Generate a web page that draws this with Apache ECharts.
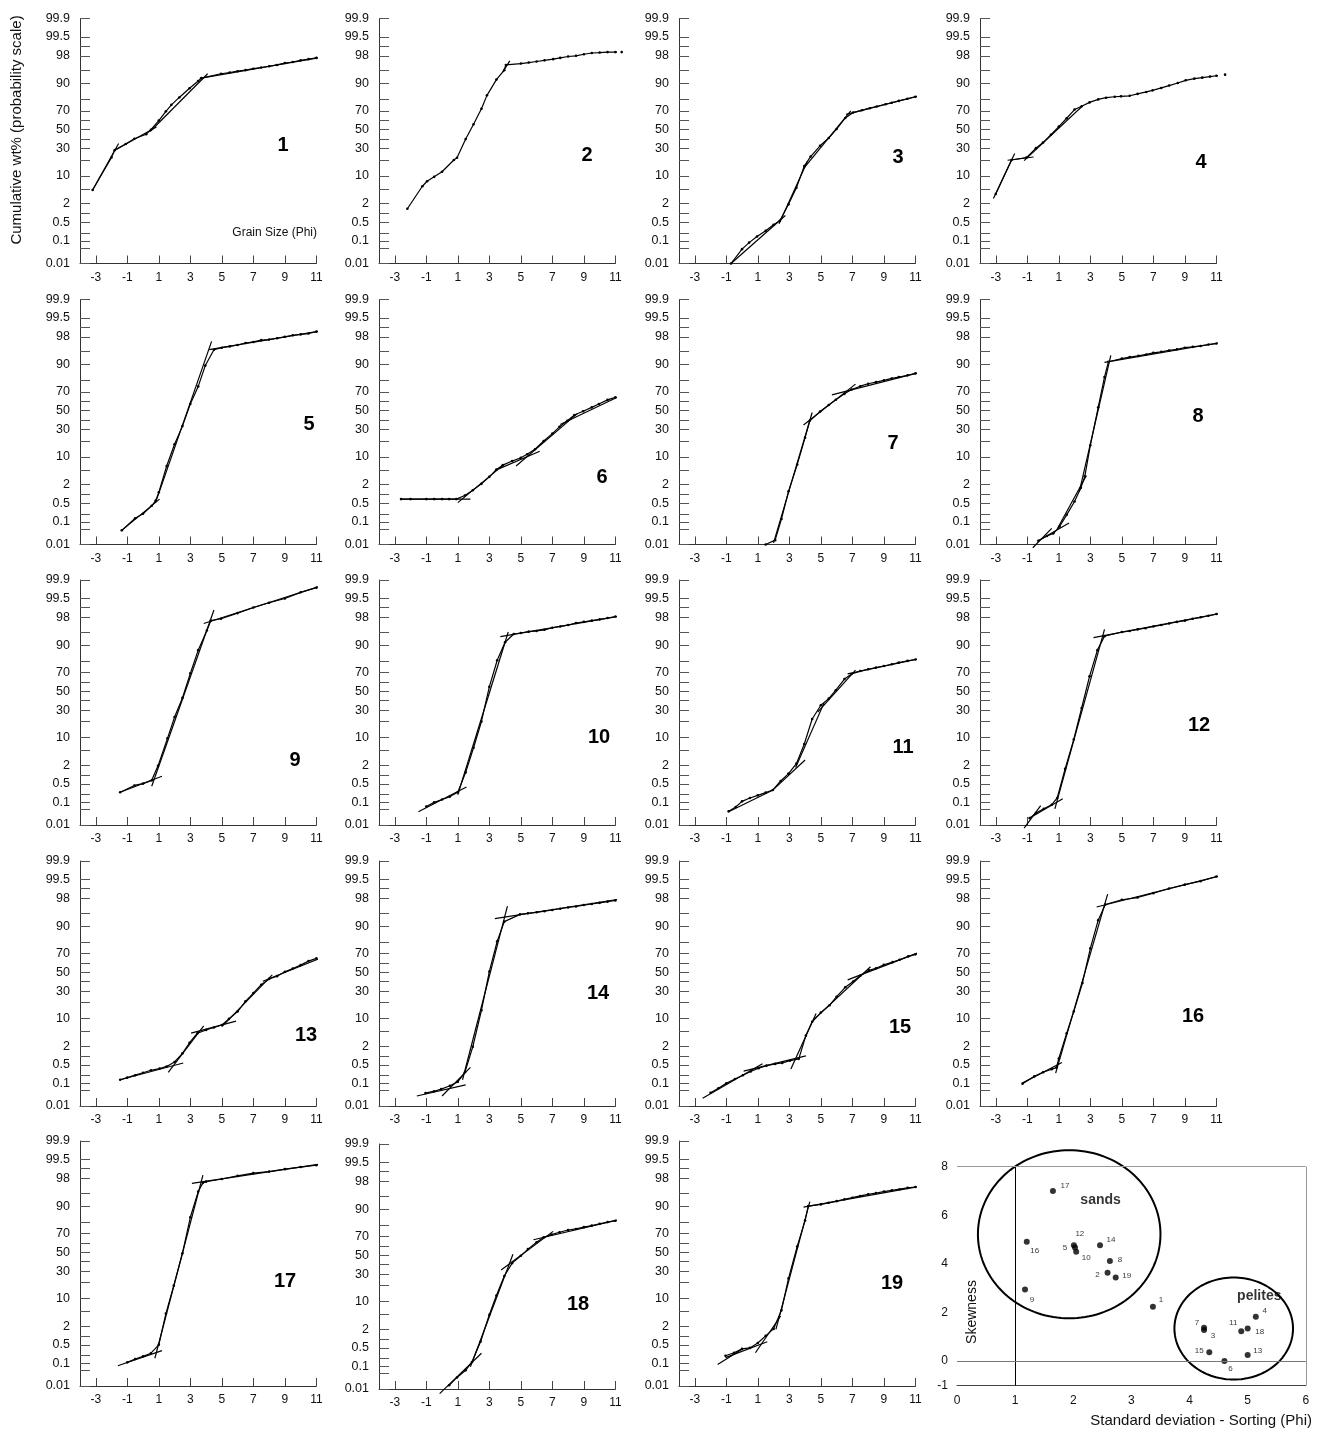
<!DOCTYPE html>
<html><head><meta charset="utf-8">
<script src="https://cdn.jsdelivr.net/npm/echarts@6/dist/echarts.min.js"></script>
<style>html,body{margin:0;padding:0;background:#fff}#c{width:1323px;height:1434px}</style>
</head><body><div id="c"></div>
<script>
// ---------- DATA (phi, cumulative wt%) ----------
const xTicks = [-3,-1,1,3,5,7,9,11];
const yTickPcts = [0.01,0.05,0.1,0.2,0.5,1,2,5,10,20,30,40,50,60,70,80,90,95,98,99,99.5,99.9];
const yLabelPcts = [0.01,0.1,0.5,2,10,30,50,70,90,98,99.5,99.9];

const pts1 = [[-3.2,4.7],[-2.0,22],[-1.8,28.5],[-1.1,34.5],[-0.55,40],[0.2,45],[0.5,50],[1.0,60],[1.45,69.5],[1.8,75.5],[2.3,81.5],[2.95,87.5],[3.5,91.2],[3.7,92.4],[4.95,94],[5.5,94.4],[6,94.8],[6.5,95.1],[7,95.5],[7.5,95.8],[8,96.1],[8.5,96.4],[9,96.8],[9.5,97.0],[10,97.3],[10.5,97.5],[11,97.7]];
const fits1 = [[[-3.2,4.7],[-1.55,35]],[[-1.85,28],[0.85,53]],[[0.45,48],[4.1,94]],[[3.6,92.3],[11.85,98]]];

const pts2 = [[-2.2,1.4],[-1.25,5.8],[-0.95,7.6],[-0.5,9.5],[0,12.1],[0.75,20],[0.95,21.8],[1.5,39.7],[2.0,56],[2.5,72],[2.85,83],[3.45,91.8],[3.95,95.1],[4.05,96.4],[5.0,96.7],[5.5,96.9],[6.0,97.1],[6.5,97.3],[7.05,97.5],[7.5,97.7],[8.0,97.9],[8.5,98.0],[9.0,98.2],[9.5,98.35],[10.0,98.4],[10.5,98.45],[11.0,98.45],[11.4,98.45]];
const fits2 = [[[3.85,94.6],[4.3,97.2]]];

const pts3 = [[-0.7,0.01],[0,0.045],[0.45,0.085],[0.95,0.15],[1.5,0.25],[2.0,0.41],[2.4,0.57],[2.95,1.9],[3.45,5.3],[3.95,15.6],[4.35,22.7],[4.95,32.7],[5.5,40.8],[6.0,50.7],[6.55,62.8],[7.05,68.3],[7.6,70.5],[8.1,72.5],[8.55,74],[9.1,76],[9.5,77.3],[9.95,78.8],[10.5,80.5],[11.0,82.0]];
const fits3 = [[[-0.7,0.01],[2.75,0.85]],[[2.35,0.45],[4.15,19]],[[3.9,14],[6.9,70]],[[6.6,66.5],[11.6,83.6]]];

const pts4 = [[-3.0,3.7],[-2.0,20],[-1.05,21.9],[-0.45,30.4],[0,36],[0.5,44.4],[1.0,53.4],[1.5,62.5],[2.0,71.2],[2.45,74.3],[2.95,77.6],[3.5,80],[4.0,81.3],[4.55,82],[4.95,82.3],[5.5,82.7],[6.0,84],[6.55,85.3],[6.95,86.3],[7.5,87.7],[8.0,89],[8.55,90.3],[9.05,91.5],[9.6,92.2],[10.1,92.6],[10.6,93],[11.0,93.3],[11.55,93.7]];
const fits4 = [[[-3.15,2.8],[-1.8,25.5]],[[-2.25,19.8],[-0.6,22.4]],[[-1.2,19.5],[2.5,74.5]]];

const pts5 = [[-1.35,0.044],[-0.5,0.14],[0,0.21],[0.55,0.41],[0.8,0.62],[1.0,1.16],[1.5,6.2],[2.0,17.5],[2.5,33.4],[3.0,57.4],[3.5,75],[3.95,89.5],[4.5,95.5],[5.0,96],[5.5,96.3],[6.0,96.6],[6.5,97],[7.0,97.2],[7.5,97.5],[8.0,97.6],[8.5,97.8],[9.0,98],[9.5,98.2],[10.0,98.3],[10.5,98.4],[11.0,98.6]];
const fits5 = [[[-1.35,0.044],[1.05,0.7]],[[0.8,0.54],[4.35,97.3]],[[4.2,95.5],[12.3,98.9]]];

const pts6 = [[-2.6,0.7],[-2.0,0.7],[-1.0,0.7],[-0.5,0.7],[0,0.7],[0.45,0.7],[0.9,0.7],[1.45,0.92],[1.95,1.35],[2.5,2.1],[3.0,3.3],[3.45,5.1],[3.85,6.5],[4.45,8.1],[5.0,9.5],[5.4,11.3],[5.9,14.2],[6.45,20],[7.0,26.2],[7.45,32.7],[7.95,39],[8.4,45.2],[8.95,49.3],[9.5,53.7],[9.95,57.4],[10.5,61.8],[11.0,64.5]];
const fits6 = [[[-2.6,0.7],[1.8,0.7]],[[1.0,0.53],[3.9,6.6]],[[3.6,5.3],[6.2,13]],[[4.7,6.2],[8.6,47]],[[7.5,35],[11.5,67.5]]];

const pts7 = [[1.5,0.01],[2.1,0.016],[2.5,0.13],[2.95,1.25],[3.5,6.7],[4.0,22.7],[4.3,39],[4.95,49],[5.5,56.3],[5.95,62],[6.5,68],[6.95,72.2],[7.5,75.2],[8.0,77.3],[8.5,78.6],[9.0,80],[9.5,81.5],[9.95,82.5],[10.5,83.7],[11.0,85]];
const fits7 = [[[2.0,0.012],[4.45,48]],[[3.9,34.5],[7.2,77]],[[5.7,67],[12.0,87.3]]];

const pts8 = [[-0.3,0.015],[0.25,0.025],[0.65,0.032],[1.05,0.064],[1.5,0.19],[2.0,0.58],[2.4,1.6],[2.65,3.4],[3.0,16.8],[3.5,53.7],[3.9,82.5],[4.15,91.3],[5.0,92.6],[5.5,93.2],[6.05,93.6],[6.55,94.1],[7.0,94.6],[7.5,94.9],[8.0,95.3],[8.5,95.6],[9.0,96],[9.5,96.2],[10.0,96.4],[10.5,96.7],[11.0,96.9]];
const fits8 = [[[-0.65,0.007],[0.55,0.054]],[[-0.3,0.015],[1.65,0.09]],[[0.9,0.05],[2.75,3.6]],[[2.3,1.2],[4.3,93.8]],[[3.9,91],[12.15,97.5]]];

const pts9 = [[-1.45,0.25],[-0.55,0.44],[0,0.51],[0.55,0.66],[0.95,1.9],[1.55,9.5],[2.0,23.6],[2.5,42.6],[3.0,69],[3.5,87.3],[4.05,95.4],[4.3,97.5],[4.95,97.8],[6.0,98.5],[7.0,99.0],[8.0,99.3],[9.0,99.5],[10.0,99.7],[11.0,99.8]];
const fits9 = [[[-1.45,0.25],[1.2,0.9]],[[0.55,0.41],[4.5,98.8]],[[3.85,97.0],[11.6,99.85]]];

const pts10 = [[-1.0,0.068],[-0.5,0.1],[0,0.13],[0.5,0.17],[1.0,0.25],[1.5,1.2],[2.0,5.8],[2.5,20],[3.0,54.8],[3.5,80.5],[4.0,91.3],[4.55,94.4],[5.0,94.7],[5.5,95.1],[6.0,95.3],[6.5,95.6],[7.0,96.1],[7.5,96.4],[8.0,96.7],[8.5,97.1],[9.0,97.3],[9.5,97.5],[10.0,97.7],[10.5,97.9],[11.0,98.1]];
const fits10 = [[[-1.5,0.04],[1.55,0.39]],[[1.0,0.2],[4.2,95]],[[3.7,93.5],[12.1,98.4]]];

const pts11 = [[-0.85,0.042],[-0.4,0.064],[0,0.11],[0.5,0.15],[1.0,0.19],[1.5,0.24],[1.95,0.3],[2.45,0.63],[2.95,1.1],[3.45,2.2],[3.95,7.1],[4.45,22],[5.0,34.8],[5.5,41.8],[5.95,51.1],[6.5,63.2],[6.95,68.4],[7.5,71.2],[8.0,72.9],[8.5,74.4],[9.0,75.8],[9.5,77.3],[9.95,78.6],[10.5,80],[11.0,81.1]];
const fits11 = [[[-0.85,0.04],[2.0,0.31]],[[1.9,0.28],[4.0,2.8]],[[3.4,1.7],[5.2,37]],[[4.8,28],[7.2,72]],[[6.7,68.5],[11.65,82.7]]];

const pts12 = [[-0.85,0.021],[-0.45,0.035],[0.05,0.054],[0.55,0.08],[0.9,0.15],[1.4,1.54],[1.95,9],[2.45,32],[2.95,66],[3.45,87.3],[3.9,93.7],[5.0,95.0],[5.5,95.3],[6.0,95.7],[6.5,96.0],[7.0,96.4],[7.5,96.7],[8.0,97],[8.5,97.3],[9.0,97.5],[9.5,97.8],[10.0,98],[10.5,98.2],[11.0,98.4]];
const fits12 = [[[-1.2,0.007],[-0.15,0.074]],[[-0.9,0.02],[1.25,0.14]],[[0.75,0.054],[3.9,95.7]],[[3.2,93.2],[12.0,98.7]]];

const pts13 = [[-1.45,0.14],[-1.0,0.17],[-0.5,0.21],[0,0.26],[0.5,0.32],[1.05,0.37],[1.5,0.44],[2.0,0.63],[2.5,1.2],[2.95,2.5],[3.45,4.5],[4.0,5.4],[4.5,6.2],[5.0,7.1],[5.45,9.7],[6.0,13.7],[6.5,20.9],[7.0,28.1],[7.5,36.4],[8.0,42.6],[8.5,45.6],[9.0,50.4],[9.5,54],[10.0,57.8],[10.5,62.1],[11.0,64.9]];
const fits13 = [[[-1.45,0.14],[2.55,0.58]],[[1.6,0.27],[3.85,6.8]],[[3.05,4.5],[5.9,8.7]],[[5.0,6.5],[8.2,47]],[[7.6,40],[11.45,66.5]]];

const pts14 = [[-1.05,0.039],[-0.5,0.047],[-0.05,0.058],[0.5,0.08],[1.0,0.115],[1.45,0.27],[1.95,1.9],[2.5,14.5],[3.0,50.7],[3.5,80.5],[3.95,92],[4.95,94.6],[5.45,94.9],[6.0,95.2],[6.5,95.5],[7.0,95.8],[7.5,96.1],[8.0,96.4],[8.5,96.6],[9.0,96.9],[9.5,97.1],[10.0,97.3],[10.5,97.5],[11.0,97.7]];
const fits14 = [[[-1.6,0.029],[1.5,0.087]],[[0.0,0.029],[1.8,0.41]],[[1.3,0.14],[4.15,96.7]],[[3.35,93.2],[11.6,98]]];

const pts15 = [[-2.0,0.04],[-1.5,0.063],[-1.0,0.1],[-0.45,0.15],[0.05,0.21],[0.55,0.29],[1.05,0.38],[1.55,0.47],[2.1,0.54],[2.55,0.58],[3.05,0.7],[3.6,0.8],[4.05,3.9],[4.45,8.4],[5.0,13.1],[5.55,17.9],[6.0,24.8],[6.55,33.7],[7.05,39.7],[7.5,46],[8.05,52],[8.5,54.4],[9.0,58.2],[9.55,61],[10.0,63.5],[10.55,67],[11.0,69]];
const fits15 = [[[-2.5,0.023],[1.3,0.55]],[[0.1,0.3],[4.05,1.0]],[[3.1,0.36],[4.7,12.5]],[[4.5,9],[8.15,56]],[[6.7,41.6],[11.3,71.2]]];

const pts16 = [[-1.3,0.097],[-0.55,0.19],[0,0.27],[0.55,0.35],[0.85,0.4],[1.0,0.82],[1.5,4.5],[1.95,13.7],[2.5,38.2],[3.0,74.6],[3.5,92.6],[3.95,97],[5.0,97.8],[6.0,98.1],[7.0,98.6],[8.0,99],[9.0,99.25],[10.0,99.43],[11.0,99.61]];
const fits16 = [[[-1.35,0.1],[1.2,0.6]],[[0.8,0.25],[4.1,98.5]],[[3.4,96.5],[11.6,99.67]]];

const pts17 = [[-1.0,0.11],[-0.5,0.15],[0,0.19],[0.5,0.25],[1.0,0.5],[1.45,4.4],[1.95,17.6],[2.5,48.8],[3.0,83.4],[3.5,95.4],[3.8,97.3],[4.0,97.5],[5.0,97.9],[6.0,98.3],[7.0,98.6],[8.0,98.75],[9.0,98.95],[10.0,99.1],[11.0,99.22]];
const fits17 = [[[-1.6,0.08],[1.2,0.31]],[[0.75,0.16],[3.8,98.4]],[[3.1,97.2],[11.5,99.32]]];

const pts18 = [[0.45,0.015],[0.95,0.034],[1.5,0.069],[1.9,0.15],[2.45,0.82],[3.0,4.9],[3.45,13.1],[3.95,28.1],[4.45,41.3],[5.0,49.3],[5.45,56.7],[6.0,64],[6.45,69],[6.95,71.6],[7.45,73.8],[8.0,75.8],[8.5,76.7],[9.0,78.2],[9.5,79.4],[10.0,80.8],[10.5,82.1],[11.0,83.1]];
const fits18 = [[[-0.15,0.006],[2.5,0.32]],[[1.8,0.097],[4.5,51]],[[3.75,34],[7.05,74.6]],[[5.8,66.6],[11.65,84.8]]];

const pts19 = [[-1.05,0.2],[-0.5,0.26],[0,0.36],[0.5,0.39],[1.0,0.58],[1.5,1.0],[2.0,1.65],[2.5,5.3],[2.95,23.3],[3.5,56.3],[4.0,81],[4.2,90],[5.0,90.8],[5.5,91.5],[6.0,92.2],[6.5,92.9],[7.0,93.5],[7.5,94.1],[8.0,94.6],[8.5,95],[9.0,95.4],[9.5,95.7],[10.0,96],[10.5,96.3],[11.0,96.5]];
const fits19 = [[[-1.55,0.09],[0.0,0.35]],[[-1.05,0.17],[1.6,0.64]],[[0.85,0.26],[2.45,3.8]],[[2.15,1.6],[4.3,92]],[[3.9,89.5],[11.75,96.9]]];

// scatter: sorting (x) vs skewness (y), samples 1..19
const sampleIds = ['1','2','3','4','5','6','7','8','9','10','11','12','13','14','15','16','17','18','19'];
const sorting  = [3.37,2.59,4.25,5.14,2.03,4.60,4.25,2.63,1.17,2.05,4.89,2.01,5.00,2.46,4.34,1.20,1.65,5.00,2.73];
const skewness = [2.24,3.64,1.28,1.82,4.68,0.00,1.37,4.12,2.95,4.50,1.23,4.77,0.25,4.77,0.36,4.91,7.00,1.34,3.44];
const groupNames = ['sands','pelites'];
const groupCenter = [[1.93,5.22],[4.76,1.34]];
const groupRadius = [[1.57,3.46],[1.02,2.1]];
const groupLabelAt = [[2.47,6.62],[5.2,2.67]];

// ---------- LAYOUT ----------
const colLeft = [80,379,679,980];
const rowTop = [18.5,299.5,580,861,1141];
const gridW = 236.4, gridH = 245;
const numberOffset = [[203,127],[208,137],[219,139],[221,144],[229,125],[223,178],[214,144],[218,117],[215,180],[220,157],[224,167],[219,145],[226,174],[219,132],[221,166],[213,155],[205,140],[199,160],[213,142]];
const labelOffset = [[8,-7],[-10,2],[9,6],[9,-6],[-10,0],[6,8],[-7,-5],[10,-1],[7,10],[10,6],[-8,-8],[6,-11],[10,-4],[11,-5],[-10,-2],[8,9],[12,-5],[12,3],[11,-2]];
const FONT = "'Liberation Sans', Arial, Helvetica, sans-serif";

function probit(p){
  const a=[-3.969683028665376e+01,2.209460984245205e+02,-2.759285104469687e+02,1.383577518672690e+02,-3.066479806614716e+01,2.506628277459239e+00];
  const b=[-5.447609879822406e+01,1.615858368580409e+02,-1.556989798598866e+02,6.680131188771972e+01,-1.328068155288572e+01];
  const c=[-7.784894002430293e-03,-3.223964580411365e-01,-2.400758277161838e+00,-2.549732539343734e+00,4.374664141464968e+00,2.938163982698783e+00];
  const d=[7.784695709041462e-03,3.224671290700398e-01,2.445134137142996e+00,3.754408661907416e+00];
  const pl=0.02425; let q,r;
  if(p<pl){q=Math.sqrt(-2*Math.log(p));return (((((c[0]*q+c[1])*q+c[2])*q+c[3])*q+c[4])*q+c[5])/((((d[0]*q+d[1])*q+d[2])*q+d[3])*q+1);}
  if(p>1-pl){q=Math.sqrt(-2*Math.log(1-p));return -(((((c[0]*q+c[1])*q+c[2])*q+c[3])*q+c[4])*q+c[5])/((((d[0]*q+d[1])*q+d[2])*q+d[3])*q+1);}
  q=p-0.5;r=q*q;return (((((a[0]*r+a[1])*r+a[2])*r+a[3])*r+a[4])*r+a[5])*q/(((((b[0]*r+b[1])*r+b[2])*r+b[3])*r+b[4])*r+1);
}
const P = pct => probit(pct/100);

const panels = [
  [pts1,fits1],[pts2,fits2],[pts3,fits3],[pts4,fits4],[pts5,fits5],[pts6,fits6],[pts7,fits7],[pts8,fits8],
  [pts9,fits9],[pts10,fits10],[pts11,fits11],[pts12,fits12],[pts13,fits13],[pts14,fits14],[pts15,fits15],
  [pts16,fits16],[pts17,fits17],[pts18,fits18],[pts19,fits19]
];

const grid=[], xAxis=[], yAxis=[], series=[], graphic=[];
const yTickZ = yTickPcts.map(P), yLabelZ = yLabelPcts.map(P);
const yFmt = v => { for (let k=0;k<yLabelPcts.length;k++) if (Math.abs(yLabelZ[k]-v)<1e-6) return String(yLabelPcts[k]); return ''; };

panels.forEach(([pts,fits],i)=>{
  const col=i%4, row=Math.floor(i/4);
  const left=colLeft[col], top=rowTop[row]+(i===17?3:0);
  grid.push({left:left, top:top, width:gridW, height:gridH});
  xAxis.push({gridIndex:i,type:'value',min:-4,max:11,
    axisLine:{onZero:false,lineStyle:{color:'#333',width:1}},
    axisTick:{show:true,inside:true,length:8,customValues:xTicks,lineStyle:{color:'#444'}},
    axisLabel:{customValues:xTicks,fontSize:12,color:'#111',margin:8,fontFamily:FONT},
    splitLine:{show:false}});
  yAxis.push({gridIndex:i,type:'value',min:P(0.01),max:P(99.9),
    axisLine:{show:true,onZero:false,lineStyle:{color:'#333',width:1}},
    axisTick:{show:true,inside:true,length:10,customValues:yTickZ,lineStyle:{color:'#555'}},
    axisLabel:{customValues:yLabelZ,formatter:yFmt,fontSize:12.5,color:'#111',margin:10,fontFamily:FONT},
    splitLine:{show:false}});
  series.push({type:'line',xAxisIndex:i,yAxisIndex:i,clip:false,silent:true,animation:false,
    data:pts.map(([x,p])=>[x,P(p)]),symbol:'circle',symbolSize:2.6,showSymbol:true,showAllSymbol:true,
    lineStyle:{color:'#000',width:1.2},itemStyle:{color:'#000'}});
  fits.forEach(seg=>{
    series.push({type:'line',xAxisIndex:i,yAxisIndex:i,clip:false,silent:true,animation:false,
      data:seg.map(([x,p])=>[x,P(p)]),symbol:'none',lineStyle:{color:'#000',width:1.2}});
  });
  graphic.push({type:'text',x:left+numberOffset[i][0],y:top+numberOffset[i][1],silent:true,
    style:{text:String(i+1),font:'bold 20px '+FONT,fill:'#000',align:'center',verticalAlign:'middle'}});
});

// scatter panel
const S = 19;
grid.push({left:957, top:1166.7, width:348.8, height:218.7});
xAxis.push({gridIndex:S,type:'value',min:0,max:6,interval:1,
  axisLine:{onZero:false,lineStyle:{color:'#444',width:1}},axisTick:{show:false},
  axisLabel:{fontSize:12,color:'#111',margin:9,fontFamily:FONT},splitLine:{show:false}});
yAxis.push({gridIndex:S,type:'value',min:-1,max:8,
  axisLine:{show:false,onZero:false},axisTick:{show:false},
  axisLabel:{customValues:[-1,0,2,4,6,8],fontSize:12,color:'#111',margin:9,fontFamily:FONT},splitLine:{show:false}});
series.push({type:'scatter',xAxisIndex:S,yAxisIndex:S,animation:false,silent:true,
  symbolSize:6,itemStyle:{color:'#000'},
  data:sampleIds.map((id,k)=>({value:[sorting[k],skewness[k]],name:id,
    label:{show:true,position:'inside',offset:labelOffset[k],formatter:id,color:'#000',fontSize:8,fontFamily:FONT}})),
  markLine:{silent:true,animation:false,symbol:['none','none'],label:{show:false},
    data:[{xAxis:1,lineStyle:{color:'#000',width:1,type:'solid'}},
          {yAxis:0,lineStyle:{color:'#777',width:1,type:'solid'}},
          {yAxis:8,lineStyle:{color:'#999',width:1,type:'solid'}},
          {xAxis:6,lineStyle:{color:'#999',width:1,type:'solid'}}]}});
series.push({type:'custom',xAxisIndex:S,yAxisIndex:S,animation:false,silent:true,clip:false,
  data:groupCenter.map((c,k)=>[c[0],c[1],groupRadius[k][0],groupRadius[k][1]]),
  renderItem:(params,api)=>{
    const c=api.coord([api.value(0),api.value(1)]);
    const s=api.size([api.value(2),api.value(3)]);
    const pts=[];
    for(let k=0;k<=144;k++){const t=k/144*2*Math.PI;pts.push([c[0]+s[0]*Math.cos(t),c[1]+s[1]*Math.sin(t)]);}
    return {type:'polygon',shape:{points:pts},style:{fill:'none',stroke:'#000',lineWidth:2}};
  }});
series.push({type:'scatter',xAxisIndex:S,yAxisIndex:S,animation:false,silent:true,symbolSize:0,
  data:groupNames.map((n,k)=>({value:groupLabelAt[k],name:n})),
  label:{show:true,position:'inside',formatter:'{b}',color:'#000',fontSize:14,fontWeight:'bold',fontFamily:FONT}});

graphic.push({type:'text',x:17,y:130,rotation:Math.PI/2,silent:true,
  style:{text:'Cumulative wt% (probability scale)',font:'15px '+FONT,fill:'#111',align:'center',verticalAlign:'middle'}});
graphic.push({type:'text',x:317,y:233,silent:true,
  style:{text:'Grain Size (Phi)',font:'12px '+FONT,fill:'#111',align:'right',verticalAlign:'middle'}});
graphic.push({type:'text',x:972,y:1312,rotation:Math.PI/2,silent:true,
  style:{text:'Skewness',font:'14px '+FONT,fill:'#111',align:'center',verticalAlign:'middle'}});
graphic.push({type:'text',x:1312,y:1421,silent:true,
  style:{text:'Standard deviation - Sorting (Phi)',font:'15px '+FONT,fill:'#111',align:'right',verticalAlign:'middle'}});

const chart = echarts.init(document.getElementById('c'),null,{renderer:'canvas'});
chart.setOption({animation:false,backgroundColor:'#fff',grid,xAxis,yAxis,series,graphic});
</script></body></html>
